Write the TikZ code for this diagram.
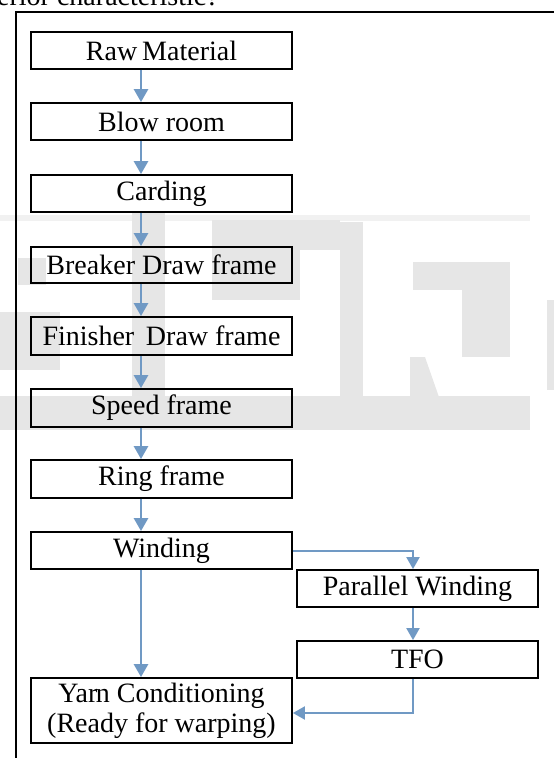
\documentclass[tikz,border=0pt]{standalone}
\usepackage{fontspec}
\setmainfont{Liberation Serif}
\usetikzlibrary{arrows.meta,calc}

\definecolor{flow}{RGB}{112,153,196}
\definecolor{mark}{RGB}{230,230,230}
\definecolor{markl}{RGB}{241,241,241}

\tikzset{
  stage/.style={draw=black, line width=1.8pt, inner sep=0pt, align=center,
                minimum width=261pt, minimum height=37pt,
                font=\fontsize{28}{30}\selectfont},
  sidestage/.style={stage, minimum width=241pt},
  flowline/.style={draw=flow, line width=2.6pt,
                   -{Triangle[width=14pt,length=13pt]}},
  branchline/.style={draw=flow, line width=2pt,
                   -{Triangle[width=13pt,length=12pt]}},
  wm/.style={fill=mark, draw=none},
}

\begin{document}
\begin{tikzpicture}[x=1pt, y=-1pt]
\useasboundingbox (0,0) rectangle (554,758);
\clip (0,0) rectangle (554,758);

% faint background watermark
\fill[markl] (0,215) rectangle (530,221);
\fill[wm] (132,213) rectangle (165,400);
\fill[wm] (212,220) rectangle (340,250);
\fill[wm] (212,250) rectangle (300,300);
\fill[wm] (18,258) rectangle (46,285);
\fill[wm] (0,312) rectangle (60,370);
\fill[wm] (340,222) rectangle (363,400);
\fill[wm] (413,262) rectangle (510,290);
\fill[wm] (462,290) rectangle (510,357);
\fill[wm] (410,357) -- (425,357) -- (440,400) -- (410,400) -- cycle;
\fill[wm] (547,300) rectangle (554,390);
\fill[wm] (0,396) rectangle (530,430);

% running text above the figure
\node[anchor=base west, inner sep=0pt, font=\fontsize{28}{30}\selectfont]
  (caption) at (-3,5) {erior characteristic?};

% frame
\draw[line width=1.8pt] (15.7,760) -- (15.7,12) -- (556,12);

% stages
\node[stage] (raw)      at (161.5,50.5)  {Raw\kern-2pt\ Material};
\node[stage] (blow)     at (161.5,121.5) {Blow room};
\node[stage] (card)     at (161.5,193.5) {Carding};
\node[stage, minimum height=36pt] (breaker) at (161.5,265) {Breaker Draw frame};
\node[stage, minimum height=38pt] (finisher) at (161.5,336) {Finisher\, Draw frame};
\node[stage, minimum height=38pt] (speed) at (161.5,408) {Speed frame};
\node[stage, minimum height=38pt] (ring)  at (161.5,479) {Ring frame};
\node[stage] (wind)     at (161.5,550.5) {Winding};
\node[sidestage] (par)  at (417.5,588.5) {Parallel Winding};
\node[sidestage] (tfo)  at (417.5,659.5) {TFO};
\node[stage, minimum height=65pt] (yarn) at (161.5,710.5)
  {Yar\kern-1.5pt n Conditioning\\(Ready for warping)};

% guide positions for the connectors
\coordinate (ax) at (141,0);
\coordinate (bx) at (413,0);

% main line
\draw[flowline] (raw.south -| ax)      -- (blow.north -| ax);
\draw[flowline] (blow.south -| ax)     -- (card.north -| ax);
\draw[flowline] (card.south -| ax)     -- (breaker.north -| ax);
\draw[flowline] (breaker.south -| ax)  -- (finisher.north -| ax);
\draw[flowline] (finisher.south -| ax) -- (speed.north -| ax);
\draw[flowline] (speed.south -| ax)    -- (ring.north -| ax);
\draw[flowline] (ring.south -| ax)     -- (wind.north -| ax);
\draw[flowline] (wind.south -| ax)     -- (yarn.north -| ax);

% side branch
\draw[branchline] (wind.east) -| (par.north -| bx);
\draw[branchline] (par.south -| bx) -- (tfo.north -| bx);
\draw[branchline] (tfo.south -| bx) |- ($(yarn.east)+(0,2.5)$);
\end{tikzpicture}
\end{document}
